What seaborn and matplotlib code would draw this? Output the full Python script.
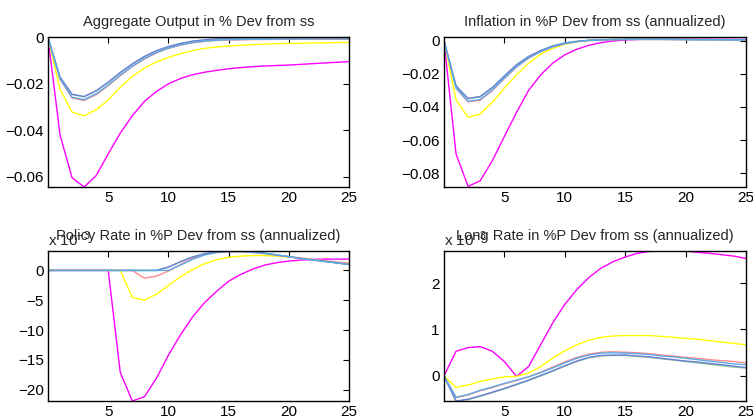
import numpy as np
import pandas as pd
import matplotlib
matplotlib.use("Agg")
import matplotlib.pyplot as plt
import seaborn as sns
from matplotlib.ticker import FuncFormatter, FixedLocator

# ---------------- data ----------------
t = list(range(26))
series_names = ["magenta", "yellow", "salmon", "green", "slate", "lightblue"]
series_colors = ["#FF00FF", "#FFFF00", "#FF8A8A", "#8CC88C", "#6C7FDA", "#5AAAE8"]

titles = ["Aggregate Output in % Dev from ss",
          "Inflation in %P Dev from ss (annualized)",
          "Policy Rate in %P Dev from ss (annualized)",
          "Long Rate in %P Dev from ss (annualized)"]

# Aggregate output
out_magenta = [0, -0.042, -0.0605, -0.0645, -0.0596, -0.0502, -0.0413, -0.0338, -0.0276, -0.0233,
               -0.0200, -0.0177, -0.0161, -0.0150, -0.0142, -0.0135, -0.0130, -0.0126, -0.0123,
               -0.0121, -0.0119, -0.0116, -0.0113, -0.0110, -0.0107, -0.0104]
out_yellow = [0, -0.0223, -0.0322, -0.0338, -0.0312, -0.0269, -0.0214, -0.0168, -0.0132, -0.0106,
              -0.0086, -0.0070, -0.0057, -0.0047, -0.0041, -0.0037, -0.0034, -0.0031, -0.0029,
              -0.0027, -0.0026, -0.0025, -0.0024, -0.0023, -0.0022, -0.0022]
out_salmon = [0, -0.0180, -0.0261, -0.0272, -0.0247, -0.0208, -0.0165, -0.0126, -0.0093, -0.0067,
              -0.0047, -0.0033, -0.0023, -0.0017, -0.0013, -0.0011, -0.0010, -0.0009, -0.0009,
              -0.0008, -0.0008, -0.0008, -0.0008, -0.0008, -0.0008, -0.0008]
out_green = [0, -0.0172, -0.0246, -0.0256, -0.0231, -0.0194, -0.0152, -0.0115, -0.0083, -0.0058,
             -0.0040, -0.0027, -0.0017, -0.0011, -0.0007, -0.0004, -0.0003, -0.0002, -0.0002,
             -0.0001, -0.0001, -0.0001, -0.0001, -0.0001, -0.0001, -0.0001]
out_slate = [0, -0.0171, -0.0245, -0.0255, -0.0230, -0.0193, -0.0151, -0.0114, -0.0082, -0.0057,
             -0.0039, -0.0026, -0.0016, -0.0010, -0.0006, -0.0003, -0.0002, -0.0001, -0.0001,
             0, 0, 0, 0, 0, 0, 0]
out_lightblue = [0, -0.0178, -0.0258, -0.0268, -0.0243, -0.0205, -0.0162, -0.0124, -0.0091, -0.0065,
                 -0.0046, -0.0032, -0.0022, -0.0016, -0.0012, -0.0010, -0.0009, -0.0008, -0.0008,
                 -0.0007, -0.0007, -0.0007, -0.0006, -0.0006, -0.0006, -0.0006]

# Inflation
inf_magenta = [0, -0.0684, -0.0880, -0.0845, -0.0725, -0.0578, -0.0434, -0.0301, -0.0207, -0.0136,
               -0.0086, -0.0052, -0.0028, -0.0012, -0.0002, 0.0004, 0.0007, 0.0009, 0.0010,
               0.0010, 0.0010, 0.0009, 0.0009, 0.0008, 0.0008, 0.0007]
inf_yellow = [0, -0.0357, -0.0462, -0.0443, -0.0373, -0.0287, -0.0207, -0.0136, -0.0082, -0.0046,
              -0.0022, -0.0008, 0.0001, 0.0006, 0.0008, 0.0009, 0.0009, 0.0009, 0.0008, 0.0008,
              0.0007, 0.0007, 0.0006, 0.0006, 0.0005, 0.0005]
inf_salmon = [0, -0.0288, -0.0370, -0.0359, -0.0302, -0.0229, -0.0160, -0.0106, -0.0067, -0.0038,
              -0.0019, -0.0007, 0.0001, 0.0004, 0.0006, 0.0007, 0.0007, 0.0007, 0.0007, 0.0007,
              0.0006, 0.0006, 0.0006, 0.0005, 0.0005, 0.0005]
inf_green = [0, -0.0275, -0.0351, -0.0339, -0.0285, -0.0215, -0.0148, -0.0097, -0.0061, -0.0033,
             -0.0015, -0.0005, 0.0002, 0.0005, 0.0007, 0.0008, 0.0008, 0.0008, 0.0008, 0.0007,
             0.0007, 0.0006, 0.0006, 0.0006, 0.0005, 0.0005]
inf_slate = [0, -0.0273, -0.0349, -0.0337, -0.0283, -0.0213, -0.0146, -0.0096, -0.0060, -0.0032,
             -0.0014, -0.0004, 0.0002, 0.0005, 0.0007, 0.0008, 0.0008, 0.0008, 0.0008, 0.0007,
             0.0007, 0.0006, 0.0006, 0.0006, 0.0005, 0.0005]
inf_lightblue = [0, -0.0285, -0.0366, -0.0355, -0.0298, -0.0226, -0.0157, -0.0104, -0.0066, -0.0037,
                 -0.0018, -0.0006, 0.0001, 0.0004, 0.0006, 0.0007, 0.0007, 0.0007, 0.0007, 0.0007,
                 0.0006, 0.0006, 0.0006, 0.0005, 0.0005, 0.0005]

# Policy rate (x 10^-3)
pol_magenta = [0, 0, 0, 0, 0, 0, -17.1, -21.9, -21.2, -18.1, -14.2, -10.8, -7.8, -5.4, -3.5, -1.8,
               -0.67, 0.22, 0.9, 1.3, 1.57, 1.74, 1.85, 1.9, 1.9, 1.9]
pol_yellow = [0, 0, 0, 0, 0, 0, 0, -4.5, -5.0, -4.0, -2.5, -1.07, 0.17, 1.12, 1.8, 2.2, 2.4, 2.5,
              2.5, 2.4, 2.25, 2.0, 1.8, 1.57, 1.35, 1.18]
pol_salmon = [0, 0, 0, 0, 0, 0, 0, 0, -1.3, -0.96, -0.1, 1.0, 2.0, 2.7, 3.0, 3.15, 3.15, 3.0, 2.8,
              2.5, 2.3, 2.1, 1.85, 1.63, 1.4, 1.18]
pol_green = [0, 0, 0, 0, 0, 0, 0, 0, 0, 0, 0.56, 1.46, 2.25, 2.8, 3.15, 3.26, 3.26, 3.15, 2.9,
             2.6, 2.3, 2.0, 1.75, 1.5, 1.25, 1.0]
pol_slate = [0, 0, 0, 0, 0, 0, 0, 0, 0, 0, 0.56, 1.46, 2.25, 2.8, 3.15, 3.26, 3.26, 3.15, 2.9,
             2.6, 2.3, 2.0, 1.75, 1.5, 1.25, 1.0]
pol_lightblue = [0, 0, 0, 0, 0, 0, 0, 0, 0, 0, 0, 0.9, 1.85, 2.6, 3.0, 3.15, 3.15, 3.05, 2.85,
                 2.6, 2.3, 2.0, 1.75, 1.5, 1.25, 1.0]

# Long rate (x 10^-3)
lng_magenta = [0, 0.53, 0.61, 0.63, 0.53, 0.31, -0.01, 0.2, 0.67, 1.14, 1.54, 1.86, 2.12, 2.32,
               2.46, 2.56, 2.64, 2.68, 2.69, 2.69, 2.69, 2.66, 2.64, 2.61, 2.58, 2.53]
lng_yellow = [0, -0.25, -0.195, -0.12, -0.065, -0.02, -0.01, 0.06, 0.2, 0.38, 0.54, 0.67, 0.77,
              0.83, 0.86, 0.87, 0.87, 0.87, 0.85, 0.83, 0.81, 0.79, 0.76, 0.73, 0.70, 0.67]
lng_salmon = [0, -0.47, -0.41, -0.32, -0.25, -0.17, -0.10, -0.02, 0.08, 0.19, 0.30, 0.40, 0.47,
              0.51, 0.52, 0.51, 0.50, 0.48, 0.45, 0.43, 0.40, 0.38, 0.35, 0.33, 0.31, 0.28]
lng_green = [0, -0.55, -0.51, -0.44, -0.36, -0.28, -0.19, -0.10, 0.0, 0.10, 0.21, 0.31, 0.39,
             0.43, 0.44, 0.44, 0.42, 0.40, 0.37, 0.34, 0.31, 0.28, 0.25, 0.22, 0.19, 0.17]
lng_slate = [0, -0.54, -0.50, -0.43, -0.35, -0.27, -0.18, -0.09, 0.01, 0.11, 0.22, 0.32, 0.40,
             0.44, 0.45, 0.45, 0.43, 0.41, 0.38, 0.35, 0.32, 0.30, 0.27, 0.24, 0.21, 0.18]
lng_lightblue = [0, -0.46, -0.40, -0.31, -0.24, -0.16, -0.09, -0.02, 0.07, 0.17, 0.28, 0.38, 0.45,
                 0.49, 0.50, 0.49, 0.48, 0.46, 0.43, 0.41, 0.38, 0.35, 0.32, 0.29, 0.26, 0.24]

panels = [
    [out_magenta, out_yellow, out_salmon, out_green, out_slate, out_lightblue],
    [inf_magenta, inf_yellow, inf_salmon, inf_green, inf_slate, inf_lightblue],
    [pol_magenta, pol_yellow, pol_salmon, pol_green, pol_slate, pol_lightblue],
    [lng_magenta, lng_yellow, lng_salmon, lng_green, lng_slate, lng_lightblue],
]
x_ticks = [5, 10, 15, 20, 25]
y_ticks = [[0, -0.02, -0.04, -0.06],
           [0, -0.02, -0.04, -0.06, -0.08],
           [0, -5, -10, -15, -20],
           [0, 1, 2]]
ylims = [(-0.0645, 0.0002), (-0.0883, 0.0022), (-21.9, 3.26), (-0.54, 2.69)]
exponent_text = [None, None, "x 10$^{-3}$", "x 10$^{-3}$"]

# ---------------- plot ----------------
sns.set_style("white")
plt.rcParams['font.family'] = ['Liberation Sans', 'DejaVu Sans']
plt.rcParams['mathtext.fontset'] = 'custom'
plt.rcParams['mathtext.rm'] = 'Liberation Sans'
plt.rcParams['axes.unicode_minus'] = True

fig = plt.figure(figsize=(7.53, 4.17), dpi=100)
positions = [
    [0.0637, 0.5516, 0.400, 0.3597],
    [0.5896, 0.5516, 0.401, 0.3597],
    [0.0637, 0.0384, 0.400, 0.3597],
    [0.5896, 0.0384, 0.401, 0.3597],
]


def fmt(v, pos):
    if abs(v) < 1e-12:
        return "0"
    s = f"{v:g}"
    return s.replace("-", "\u2212")


for i, pos in enumerate(positions):
    ax = fig.add_axes(pos)
    rows = []
    for name, vals in zip(series_names, panels[i]):
        for tt, v in zip(t, vals):
            rows.append({"t": tt, "value": v, "series": name})
    df = pd.DataFrame(rows)
    sns.lineplot(data=df, x="t", y="value", hue="series", hue_order=series_names,
                 palette=dict(zip(series_names, series_colors)), linewidth=1.0,
                 legend=False, ax=ax, sort=False)
    ax.set_xlim(0, 25)
    ax.set_ylim(*ylims[i])
    ax.xaxis.set_major_locator(FixedLocator(x_ticks))
    ax.yaxis.set_major_locator(FixedLocator(y_ticks[i]))
    ax.yaxis.set_major_formatter(FuncFormatter(fmt))
    ax.set_xlabel("")
    ax.set_ylabel("")
    ax.tick_params(direction="in", top=True, right=True, length=4, width=0.8,
                   labelsize=11, pad=3, colors="black")
    for sp in ax.spines.values():
        sp.set_color("black")
        sp.set_linewidth(1.0)
    ax.set_title(titles[i], fontsize=10.5, pad=8)
    if exponent_text[i]:
        ax.text(0.0, 1.015, exponent_text[i], transform=ax.transAxes, fontsize=11,
                ha="left", va="bottom")

fig.savefig("out.png", dpi=100)
